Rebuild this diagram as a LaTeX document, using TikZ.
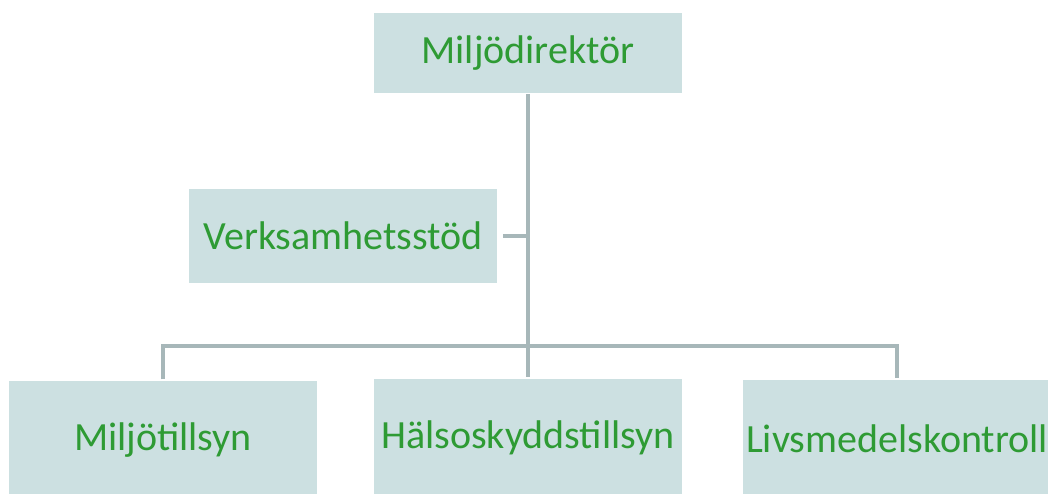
\documentclass[tikz,border=0pt]{standalone}
\usepackage{fontspec}
\setmainfont{Carlito}
\usepackage{tikz}

\definecolor{boxfill}{HTML}{CCE0E1}
\definecolor{boxtext}{HTML}{2E9B34}
\definecolor{linegray}{HTML}{A7B7B9}

\begin{document}
\begin{tikzpicture}[x=1pt, y=-1pt,
  orgbox/.style={draw=white, line width=1.5pt, fill=boxfill, text=boxtext, font=\fontsize{40}{48}\selectfont, inner sep=0pt},
  orgline/.style={draw=linegray, line width=4pt}]
\useasboundingbox (0,0) rectangle (1048,493);

\node[orgbox, minimum width=310pt, minimum height=81pt] (direktor) at (528,53) {Miljödirektör};
\node[orgbox, minimum width=310pt, minimum height=95pt] (stod) at (343,236) {Verksamhetsstöd};

\node[orgbox, minimum width=310pt, minimum height=120pt] (miljo) at (163,440) {Miljötillsyn};
\node[orgbox, minimum width=310pt, minimum height=120pt] (halso) at (528,438) {Hälsoskyddstillsyn};
\node[orgbox, minimum width=310pt, minimum height=120pt] (livs) at (897,439) {Livsmedelskontroll};

\coordinate (bar) at (528,346);

\draw[orgline] (direktor.south) -- (halso.north);
\draw[orgline, shorten <=4pt] (stod.east) -- (direktor.south |- stod.east);
\draw[orgline] (miljo.north) -- (miljo.north |- bar) -| (livs.north);
\end{tikzpicture}
\end{document}
